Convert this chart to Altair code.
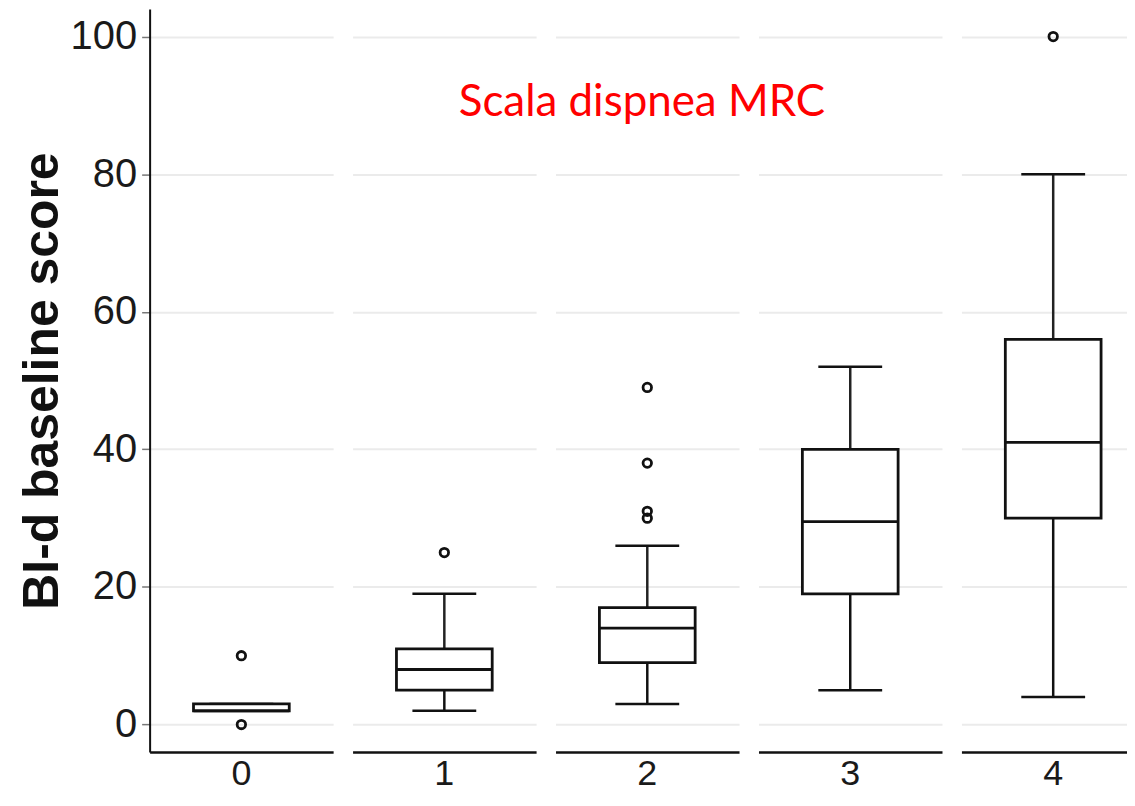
import altair as alt
import pandas as pd

# ---- data ----
cats = ["0", "1", "2", "3", "4"]
q1 = [2, 5, 9, 19, 30]
median = [2, 8, 14, 29.5, 41]
q3 = [3, 11, 17, 40, 56]
whisk_lo = [2, 2, 3, 5, 4]
whisk_hi = [3, 19, 26, 52, 80]
outlier_cat = ["0", "0", "1", "2", "2", "2", "2", "4"]
outlier_val = [10, 0, 25, 49, 38, 31, 30, 100]
y_ticks = [0, 20, 40, 60, 80, 100]

box_df = pd.DataFrame({
    "cat": cats, "q1": q1, "median": median, "q3": q3, "lo": whisk_lo, "hi": whisk_hi,
})
out_df = pd.DataFrame({"cat": outlier_cat, "val": outlier_val})

YTITLE = "BI-d baseline score"
INK = "#111111"
yscale = alt.Scale(domain=[-4, 104], nice=False, zero=False)

axis_first = alt.Axis(
    values=y_ticks, title=YTITLE, grid=True, gridColor="#ebebeb", gridWidth=2,
    labelFontSize=40, labelFont="Liberation Sans", labelColor="#1a1a1a",
    labelPadding=5, tickSize=8, tickColor="#777777", tickWidth=1.5,
    domainColor=INK, domainWidth=2,
    titleFont="Liberation Sans", titleFontSize=50, titleFontWeight="bold",
    titleColor=INK, titlePadding=3,
)
axis_other = alt.Axis(
    values=y_ticks, title=None, grid=True, gridColor="#ebebeb", gridWidth=2,
    labels=False, ticks=False, domain=False,
)

PANEL_W = [184, 184, 184, 184, 166]
PANEL_H = 745
HALF = 92  # box centre from a panel's left edge


def make_panel(i):
    c = cats[i]
    first = i == 0
    yaxis = axis_first if first else axis_other
    ytitle = YTITLE if first else None

    def Y(field):
        return alt.Y(field, type="quantitative", scale=yscale, axis=yaxis, title=ytitle)

    w = PANEL_W[i]
    step = w / 2.0
    align = (HALF - step / 2.0) / (w - step)
    xscale = alt.Scale(paddingInner=0, paddingOuter=0.5, align=align)
    xenc = alt.X(
        "cat:N", title=None, scale=xscale,
        axis=alt.Axis(labelAngle=0, ticks=False, labelFontSize=36, labelFont="Liberation Sans",
                      labelColor="#1a1a1a", labelPadding=5, domainColor=INK,
                      domainWidth=2.5, grid=False),
    )
    bsel = alt.Chart(box_df).transform_filter(alt.datum.cat == c).encode(x=xenc)
    osel = alt.Chart(out_df).transform_filter(alt.datum.cat == c).encode(x=xenc)

    whisk_low = bsel.mark_rule(color=INK, strokeWidth=2.5).encode(y=Y("lo"), y2="q1")
    whisk_high = bsel.mark_rule(color="#222222", strokeWidth=2.5).encode(y=Y("q3"), y2="hi")
    cap_low = bsel.mark_tick(color=INK, size=64, thickness=2.5, opacity=1).encode(y=Y("lo"))
    cap_high = bsel.mark_tick(color=INK, size=64, thickness=2.5, opacity=1).encode(y=Y("hi"))
    box = bsel.mark_bar(size=96, fill="white", stroke=INK, strokeWidth=2.8, opacity=1).encode(
        y=Y("q1"), y2="q3")
    med = bsel.mark_tick(color=INK, size=96, thickness=2.8, opacity=1).encode(y=Y("median"))
    outl = osel.mark_point(shape="circle", filled=False, color=INK, size=72,
                           strokeWidth=2.8, opacity=1).encode(y=Y("val"))
    return alt.layer(whisk_low, whisk_high, cap_low, cap_high, box, med, outl).properties(
        width=w, height=PANEL_H)


chart = alt.hconcat(*[make_panel(i) for i in range(5)], spacing=19.5).properties(
    title=alt.TitleParams(
        text="Scala dispnea MRC", color="#ff0000", font="Lato", fontSize=44,
        fontWeight="normal", anchor="middle", orient="top", offset=-116, dx=70,
    ),
    padding={"left": 9, "top": 0, "right": 0, "bottom": 0},
).configure_view(stroke=None)

chart.save("out.html", embed_options={"renderer": "svg", "actions": False})
